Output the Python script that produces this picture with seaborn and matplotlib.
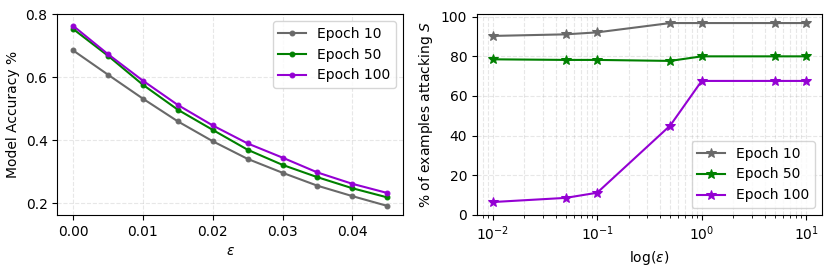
import matplotlib
matplotlib.use('Agg')
import matplotlib.pyplot as plt
import seaborn as sns
import pandas as pd

# Dados - grafico da esquerda (acuracia vs epsilon)
eps = [0.000, 0.005, 0.010, 0.015, 0.020, 0.025, 0.030, 0.035, 0.040, 0.045]
acc_ep10 = [0.685, 0.608, 0.532, 0.460, 0.397, 0.341, 0.297, 0.256, 0.223, 0.192]
acc_ep50 = [0.753, 0.668, 0.576, 0.497, 0.433, 0.370, 0.322, 0.283, 0.248, 0.219]
acc_ep100 = [0.763, 0.673, 0.589, 0.512, 0.447, 0.390, 0.345, 0.298, 0.262, 0.233]

# Dados - grafico da direita (% exemplos atacando S vs log(eps))
log_eps = [0.01, 0.05, 0.1, 0.5, 1, 5, 10]
att_ep10 = [90.3, 91.1, 92.1, 96.8, 96.8, 96.8, 96.8]
att_ep50 = [78.5, 78.2, 78.2, 77.7, 80.0, 80.0, 80.0]
att_ep100 = [6.5, 8.6, 11.2, 45.1, 67.6, 67.6, 67.6]

labels = ['Epoch 10', 'Epoch 50', 'Epoch 100']
cores = ['dimgray', 'green', 'darkviolet']

fig = plt.figure(figsize=(8.31, 2.66), dpi=100)
ax1 = fig.add_axes([0.069, 0.192, 0.416, 0.755])
ax2 = fig.add_axes([0.574, 0.192, 0.415, 0.755])

# esquerda
for ys, lab, cor in zip([acc_ep10, acc_ep50, acc_ep100], labels, cores):
    sns.lineplot(x=eps, y=ys, ax=ax1, color=cor, marker='.', markersize=7,
                 markeredgecolor=cor, linewidth=1.5, label=lab)
ax1.set_ylim(top=0.8)
ax1.set_xticks([0.00, 0.01, 0.02, 0.03, 0.04])
ax1.set_yticks([0.2, 0.4, 0.6, 0.8])
ax1.set_xlabel(r'$\epsilon$')
ax1.set_ylabel('Model Accuracy %')
ax1.grid(True, linestyle='--', alpha=0.3)
ax1.legend(loc='upper right', fontsize=10)

# direita
for ys, lab, cor in zip([att_ep10, att_ep50, att_ep100], labels, cores):
    sns.lineplot(x=log_eps, y=ys, ax=ax2, color=cor, marker='*', markersize=7,
                 markeredgecolor=cor, linewidth=1.5, label=lab)
ax2.set_xscale('log')
ax2.set_ylim(bottom=0)
ax2.set_xlabel(r'log($\epsilon$)')
ax2.set_ylabel('% of examples attacking $S$')
ax2.grid(True, which='both', linestyle='--', alpha=0.3)
ax2.legend(loc='lower right', fontsize=10)

fig.savefig('out.png', dpi=100)
